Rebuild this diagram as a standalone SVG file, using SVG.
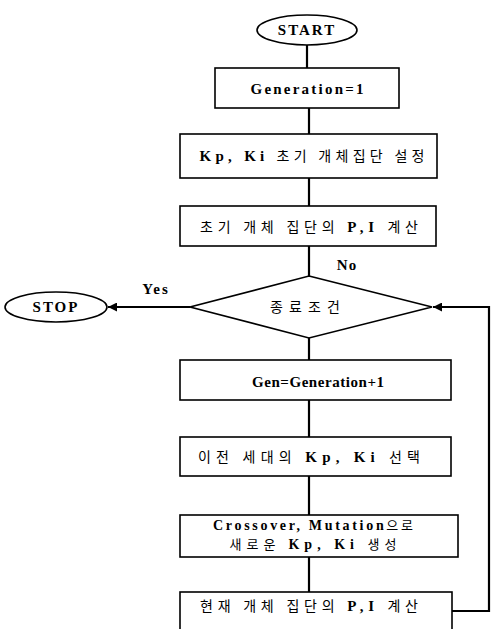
<svg xmlns="http://www.w3.org/2000/svg" width="492" height="629" viewBox="0 0 492 629">
<style>
.b{fill:#fff;stroke:#000;stroke-width:1.6}
.t{font-family:"Liberation Serif","Noto Sans CJK KR",serif;font-size:15px;font-weight:bold;fill:#000;text-anchor:middle}
.k{font-family:"Noto Sans CJK KR","Liberation Sans",sans-serif;font-weight:normal;font-size:14px}
.s{font-size:14px}
.s .k{font-size:13px}
.c{fill:none;stroke:#000;stroke-width:2.2}
</style>
<defs>
<marker id="ah" viewBox="0 0 10 10" refX="10" refY="5" markerWidth="11" markerHeight="9" markerUnits="userSpaceOnUse" orient="auto">
<path d="M0,0L10,5L0,10z" fill="#000"/>
</marker>
</defs>
<g id="connectors">
<line class="c" x1="307" y1="45" x2="307" y2="68"/>
<line class="c" x1="309" y1="108" x2="309" y2="134"/>
<line class="c" x1="309" y1="178" x2="309" y2="206"/>
<line class="c" x1="309" y1="246" x2="309" y2="276"/>
<line class="c" x1="190" y1="307" x2="108" y2="307" marker-end="url(#ah)"/>
<line class="c" x1="309" y1="338" x2="309" y2="360"/>
<line class="c" x1="309" y1="400" x2="309" y2="437"/>
<line class="c" x1="309" y1="476" x2="309" y2="515"/>
<line class="c" x1="309" y1="557" x2="309" y2="592"/>
<polyline class="c" points="452,611 489,611 489,307 433,307" marker-end="url(#ah)"/>
<text class="t" x="347" y="270" letter-spacing="1">No</text>
<text class="t" x="156" y="294" letter-spacing="2">Yes</text>
</g>
<g id="start">
<ellipse class="b" cx="307" cy="30" rx="50" ry="15"/>
<text class="t" x="307" y="35" font-size="16" letter-spacing="2">START</text>
</g>
<g id="gen1">
<rect class="b" x="215" y="68" width="184" height="40"/>
<text class="t" x="307" y="94" textLength="113" lengthAdjust="spacing">Generation=1</text>
</g>
<g id="init">
<rect class="b" x="180" y="134" width="257" height="44"/>
<text class="t" x="312" y="161" textLength="225" lengthAdjust="spacing">Kp, Ki <tspan class="k">초기 개체집단 설정</tspan></text>
</g>
<g id="calc0">
<rect class="b" x="180" y="206" width="256" height="40"/>
<text class="t" x="309" y="232" textLength="218" lengthAdjust="spacing"><tspan class="k">초기 개체 집단의 </tspan>P,I <tspan class="k">계산</tspan></text>
</g>
<g id="cond">
<polygon class="b" points="309,276 432,307 309,338 190,307"/>
<text class="t k" x="305" y="312" textLength="70" lengthAdjust="spacing">종료조건</text>
</g>
<g id="stop">
<ellipse class="b" cx="56" cy="307" rx="51" ry="15"/>
<text class="t" x="56" y="312" font-size="15" letter-spacing="2">STOP</text>
</g>
<g id="gen2">
<rect class="b" x="180" y="360" width="271" height="40"/>
<text class="t" x="318" y="387" textLength="132" lengthAdjust="spacing">Gen=Generation+1</text>
</g>
<g id="select">
<rect class="b" x="180" y="437" width="271" height="39"/>
<text class="t" x="309" y="462" textLength="222" lengthAdjust="spacing"><tspan class="k">이전 세대의 </tspan>Kp, Ki <tspan class="k">선택</tspan></text>
</g>
<g id="cross">
<rect class="b" x="180" y="515" width="278" height="42"/>
<text class="t s" x="313" y="530" textLength="200" lengthAdjust="spacing">Crossover, Mutation<tspan class="k">으로</tspan></text>
<text class="t s" x="313" y="549" textLength="167" lengthAdjust="spacing"><tspan class="k">새로운 </tspan>Kp, Ki <tspan class="k">생성</tspan></text>
</g>
<g id="calc">
<rect class="b" x="180" y="592" width="272" height="45"/>
<text class="t" x="309" y="611" textLength="218" lengthAdjust="spacing"><tspan class="k">현재 개체 집단의 </tspan>P,I <tspan class="k">계산</tspan></text>
</g>
</svg>
